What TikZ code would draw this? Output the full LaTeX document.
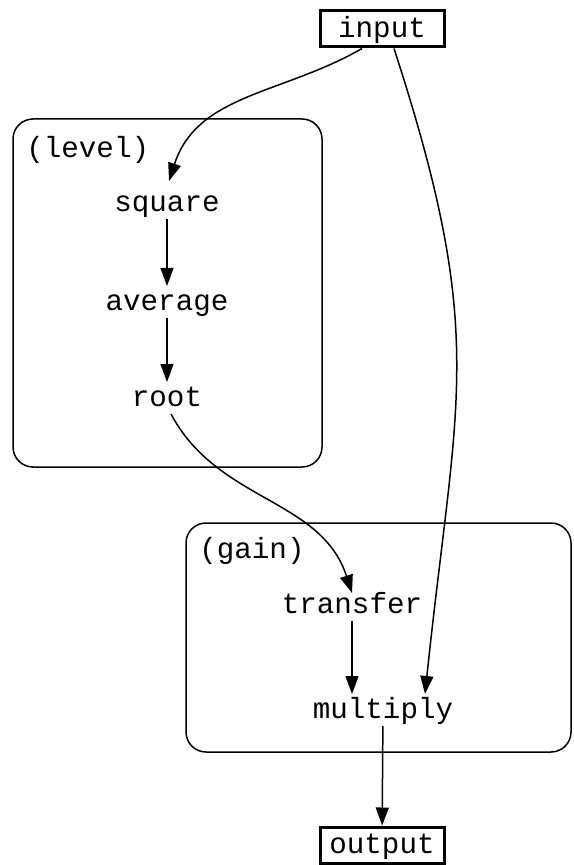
\documentclass[tikz,border=0pt]{standalone}
\usepackage{fontspec}
\setmonofont{Liberation Mono}
\usetikzlibrary{arrows.meta}
\begin{document}
\begin{tikzpicture}[x=0.5pt,y=-0.5pt,>={Triangle[length=9pt,width=6.5pt]},font=\ttfamily\fontsize{14.6}{17}\selectfont]
        \tikzstyle{stage}=[inner sep=3pt,outer sep=0pt,text height=0.92em,text depth=0.08em]
        \tikzstyle{box}=[draw,line width=1.5pt,minimum width=62pt,minimum height=18pt,inner sep=0pt,text height=0.92em,text depth=0.08em]
        \tikzstyle{cluster}=[draw,line width=0.75pt,rounded corners=10pt]
        \tikzstyle{flow}=[draw,->,line width=0.75pt]
        \useasboundingbox (0,0) rectangle (573,865);
       % clusters
       \draw[cluster] (13,119) rectangle (322,467);
       \draw[cluster] (186,523) rectangle (571,752);
       \node [anchor=west,inner sep=0pt] (levellabel) at (26,150) {(level)};
       \node [anchor=west,inner sep=0pt] (gainlabel) at (199,551) {(gain)};
       % nodes
       \node [box] (input) at (382,29) {input};
       \node [stage] (square) at (167,203) {square};
       \node [stage] (average) at (167,302) {average};
       \node [stage] (root) at (167,398) {root};
       \node [stage] (transfer) at (352,605) {transfer};
       \node [stage] (multiply) at (383,710) {multiply};
       \node [box] (output) at (382,845) {output};
       % edges
       \path ([xshift=-10pt]input.south) edge [flow,out=-150,in=72] ([xshift=1pt,yshift=3pt]square.north);
       \path (square) edge [flow] (average);
       \path (average) edge [flow] (root);
       \path ([xshift=2pt]root.south) edge [flow,out=-62,in=108] ([yshift=-2pt]transfer.north);
       \path ([xshift=6pt]input.south) edge [flow,out=-72,in=84,looseness=1.2] ([xshift=21pt]multiply.north);
       \path (transfer) edge [flow] (transfer |- multiply.north);
       \path (multiply) edge [flow] (output);
      \end{tikzpicture}
\end{document}
